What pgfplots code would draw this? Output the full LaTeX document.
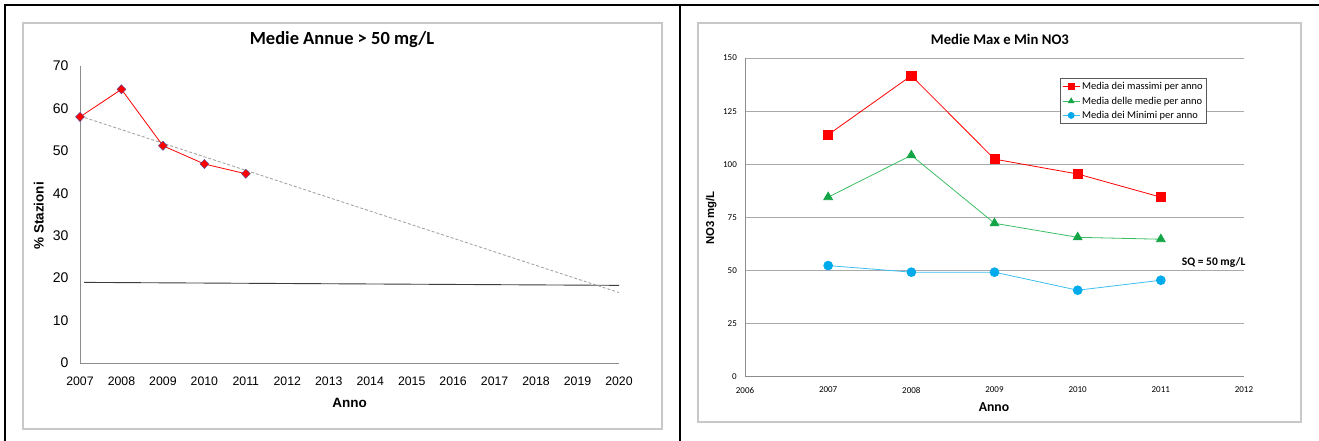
\documentclass[border=0pt]{standalone}
\usepackage{fontspec}
\setmainfont{Liberation Sans}
\newfontfamily\carlito{Carlito}
\usepackage{pgfplots}
\pgfplotsset{compat=1.18}
\definecolor{mred}{RGB}{255,0,0}
\definecolor{mgreen}{RGB}{20,165,70}
\definecolor{mgreenl}{RGB}{60,190,100}
\definecolor{mblue}{RGB}{0,170,235}
\definecolor{mblueL}{RGB}{60,190,240}
\definecolor{dmd}{RGB}{70,80,160}
\definecolor{frame}{RGB}{200,200,200}
\definecolor{axg}{RGB}{140,140,140}
\definecolor{gridg}{RGB}{170,170,170}
\begin{document}
\begin{tikzpicture}
\path[use as bounding box] (0,0) rectangle (1319bp,441bp);
% frames
\draw[black, line width=2.5bp] (5bp,0) -- (5bp,436bp) -- (1319bp,436bp);
\draw[black, line width=2.5bp] (680bp,0) -- (680bp,436bp);
\draw[frame, line width=1.2bp] (23bp,12bp) rectangle (662bp,418bp);
\draw[frame, line width=1.2bp] (698bp,19bp) rectangle (1301bp,418bp);

% left chart
\begin{axis}[at={(80bp,78bp)}, anchor=south west, scale only axis,
  width=539bp, height=297bp,
  xmin=2007, xmax=2020, ymin=0, ymax=70,
  axis x line=bottom, axis y line=left,
  axis line style={axg, line width=0.8bp, -},
  xtick={2007,2008,...,2020}, ytick={0,10,...,70},
  major tick length=0,
  /pgf/number format/assume math mode=true,
  /pgf/number format/1000 sep={},
  xticklabel style={font=\fontsize{12.3bp}{14bp}\selectfont, anchor=center, yshift=-18.7bp, inner sep=0pt},
  yticklabel style={font=\fontsize{14bp}{16bp}\selectfont, anchor=east, xshift=-11.4bp, inner sep=0pt},
  clip=false]
\addplot[color={rgb,255:red,60;green,60;blue,60}, line width=0.9bp, no marks] coordinates {(2007.1,19.0) (2020,18.3)};
\addplot[color={rgb,255:red,165;green,165;blue,165}, line width=0.9bp, dash pattern=on 3bp off 2bp, no marks] coordinates {(2007,58.2) (2020,16.6)};
\addplot[mred, line width=0.8bp, mark=diamond*, mark size=4.6bp,
  mark options={solid, fill=mred, draw=dmd, line width=0.4bp, xscale=1.3}]
  coordinates {(2007,58.0) (2008,64.5) (2009,51.2) (2010,46.9) (2011,44.6)};
\end{axis}

% right chart
\begin{axis}[at={(745bp,64.3bp)}, anchor=south west, scale only axis,
  width=499bp, height=318.7bp,
  xmin=2006, xmax=2012, ymin=0, ymax=150,
  axis x line=bottom, axis y line=left,
  axis line style={axg, line width=0.9bp, -},
  xtick={2006,...,2012}, ytick={0,25,...,150},
  ymajorgrids, grid style={gridg, line width=0.8bp},
  major tick length=0,
  /pgf/number format/assume math mode=true,
  /pgf/number format/1000 sep={},
  xticklabel style={font=\carlito\fontsize{9bp}{10bp}\selectfont, anchor=center, yshift=-13.3bp, inner sep=0pt},
  yticklabel style={font=\carlito\fontsize{9bp}{10bp}\selectfont, anchor=east, xshift=-8bp, inner sep=0pt},
  clip=false,
  legend cell align=left,
  legend image post style={mark size=3bp},
  legend style={at={(rel axis cs:0.631,0.937)}, anchor=north west,
    draw={rgb,255:red,90;green,90;blue,90}, line width=0.8bp,
    font=\carlito\fontsize{10.5bp}{12bp}\selectfont, row sep=1.5bp,
    inner xsep=2bp, inner ysep=2bp}]
\addplot[mred, line width=0.8bp, mark=square*, mark size=4.6bp, mark options={solid, fill=mred, draw=mred}]
  coordinates {(2007,113.9) (2008,141.7) (2009,102.4) (2010,95.4) (2011,84.5)};
\addlegendentry{Media dei massimi per anno}
\addplot[mgreenl, line width=0.8bp, mark=triangle*, mark size=5bp, mark options={solid, fill=mgreen, draw=mgreen}]
  coordinates {(2007,84.5) (2008,104.2) (2009,72.2) (2010,65.6) (2011,64.7)};
\addlegendentry{Media delle medie per anno}
\addplot[mblueL, line width=0.8bp, mark=*, mark size=4.4bp, mark options={solid, fill=mblue, draw=mblue}]
  coordinates {(2007,52.3) (2008,49.2) (2009,49.2) (2010,40.7) (2011,45.4)};
\addlegendentry{Media dei Minimi per anno}
\end{axis}

% texts
\node[font=\carlito\bfseries\fontsize{18.5bp}{20bp}\selectfont] at (342bp,401.7bp) {Medie Annue > 50 mg/L};
\node[font=\bfseries\fontsize{13.5bp}{15bp}\selectfont] at (349.7bp,37.7bp) {Anno};
\node[font=\bfseries\fontsize{13.5bp}{15bp}\selectfont, rotate=90] at (38.7bp,225.2bp) {\% Stazioni};
\node[font=\carlito\bfseries\fontsize{14.7bp}{16bp}\selectfont] at (999.9bp,401.7bp) {Medie Max e Min NO3};
\node[font=\carlito\bfseries\fontsize{13.7bp}{15bp}\selectfont] at (994bp,33.7bp) {Anno};
\node[font=\bfseries\fontsize{11.4bp}{13bp}\selectfont, rotate=90] at (711.3bp,223bp) {NO3 mg/L};
\node[font=\carlito\bfseries\fontsize{11.5bp}{13bp}\selectfont] at (1213.7bp,178.7bp) {SQ = 50 mg/L};
\end{tikzpicture}
\end{document}
